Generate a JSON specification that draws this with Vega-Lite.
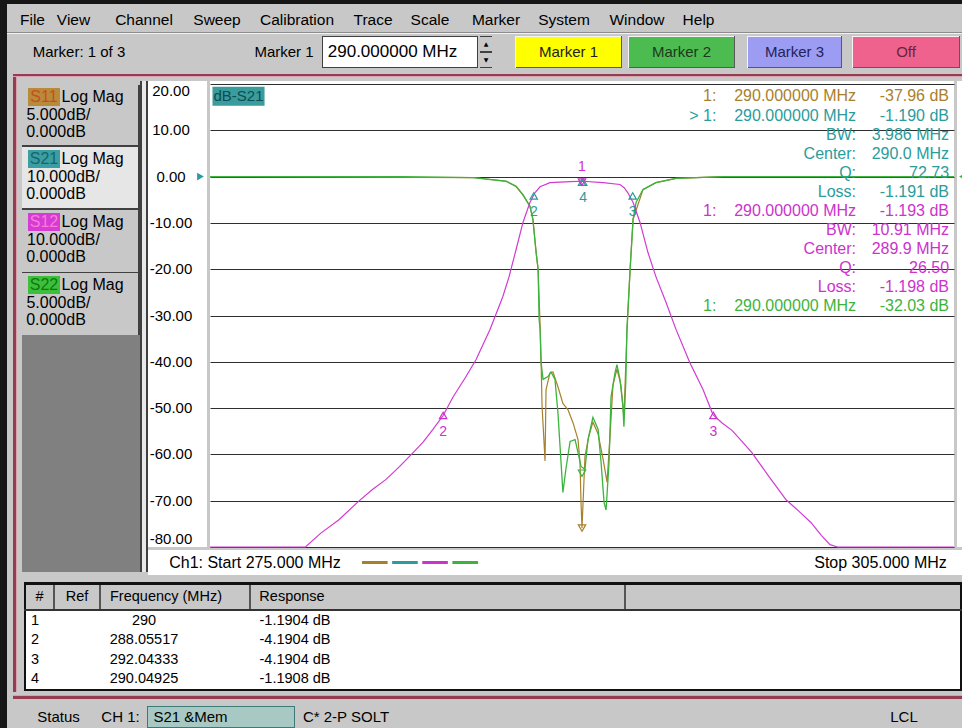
{
"$schema":"https://vega.github.io/schema/vega-lite/v6.json",
"background":"#c8c8c8",
"padding":0,
"config":{"view":{"stroke":null},"concat":{"spacing":0},"text":{"font":"Liberation Sans","fontSize":15}},
"datasets":{
"s12":[{"f":275,"db":-80},{"f":278.85,"db":-80},{"f":279.47,"db":-77},{"f":280.2,"db":-74.1},{"f":281,"db":-70.1},{"f":281.55,"db":-67.6},{"f":282.1,"db":-65.4},{"f":282.65,"db":-62.6},{"f":283.19,"db":-59.6},{"f":283.6,"db":-57.3},{"f":283.99,"db":-54.6},{"f":284.4,"db":-51.6},{"f":284.8,"db":-47.6},{"f":285.3,"db":-43.4},{"f":285.73,"db":-39.5},{"f":286.29,"db":-33},{"f":286.81,"db":-25.9},{"f":287.06,"db":-21.6},{"f":287.34,"db":-15.8},{"f":287.62,"db":-9.9},{"f":287.9,"db":-5.6},{"f":288.1,"db":-3.5},{"f":288.31,"db":-2.2},{"f":288.71,"db":-1.3},{"f":289.52,"db":-1.1},{"f":290.04,"db":-1},{"f":290.85,"db":-1.3},{"f":291.53,"db":-1.7},{"f":291.7,"db":-2.4},{"f":291.85,"db":-3.5},{"f":292.06,"db":-5.6},{"f":292.34,"db":-9.9},{"f":292.66,"db":-16.4},{"f":292.98,"db":-21.6},{"f":293.39,"db":-27.2},{"f":293.79,"db":-33},{"f":294.35,"db":-40.2},{"f":294.88,"db":-46},{"f":295.28,"db":-51.4},{"f":295.65,"db":-53.2},{"f":296.05,"db":-54.8},{"f":296.45,"db":-57.2},{"f":296.85,"db":-59.6},{"f":297.54,"db":-64.8},{"f":298.23,"db":-69.8},{"f":298.75,"db":-72.3},{"f":299.23,"db":-74.7},{"f":299.65,"db":-77.5},{"f":300,"db":-79.5},{"f":300.3,"db":-80},{"f":305,"db":-80}],
"s11":[{"f":275,"db":0},{"f":285.6,"db":-0.1},{"f":286.94,"db":-0.5},{"f":287.34,"db":-1.05},{"f":287.62,"db":-2},{"f":287.9,"db":-3.2},{"f":288.02,"db":-4.6},{"f":288.15,"db":-8.2},{"f":288.23,"db":-10},{"f":288.31,"db":-16},{"f":288.35,"db":-20},{"f":288.39,"db":-24.8},{"f":288.51,"db":-30.7},{"f":288.55,"db":-23},{"f":288.71,"db":-21.2},{"f":288.83,"db":-21.1},{"f":289.03,"db":-22.7},{"f":289.23,"db":-24.5},{"f":289.44,"db":-25.2},{"f":289.64,"db":-26.6},{"f":289.84,"db":-28.4},{"f":289.92,"db":-30.9},{"f":289.96,"db":-35.2},{"f":290,"db":-37.96},{"f":290.08,"db":-32.8},{"f":290.12,"db":-30.2},{"f":290.28,"db":-28},{"f":290.44,"db":-26.5},{"f":290.65,"db":-27.8},{"f":290.85,"db":-30.5},{"f":291.01,"db":-33},{"f":291.13,"db":-28},{"f":291.25,"db":-22.5},{"f":291.41,"db":-20.8},{"f":291.57,"db":-22.5},{"f":291.69,"db":-26},{"f":291.81,"db":-17},{"f":291.94,"db":-10},{"f":292.06,"db":-4.6},{"f":292.46,"db":-1.4},{"f":292.98,"db":-0.65},{"f":293.79,"db":-0.2},{"f":295.69,"db":0},{"f":305,"db":0}],
"s22":[{"f":275,"db":0},{"f":282.78,"db":0},{"f":285.6,"db":-0.1},{"f":286.94,"db":-0.5},{"f":287.34,"db":-1.05},{"f":287.62,"db":-1.94},{"f":287.9,"db":-3.2},{"f":288.02,"db":-4.6},{"f":288.15,"db":-8.2},{"f":288.23,"db":-10},{"f":288.27,"db":-15.4},{"f":288.31,"db":-16.5},{"f":288.35,"db":-20.1},{"f":288.43,"db":-21.9},{"f":288.63,"db":-21.6},{"f":288.75,"db":-21.1},{"f":288.91,"db":-21.9},{"f":289.03,"db":-25.5},{"f":289.23,"db":-34.1},{"f":289.35,"db":-31.6},{"f":289.52,"db":-28.6},{"f":289.72,"db":-28.4},{"f":289.84,"db":-29.8},{"f":289.96,"db":-31.3},{"f":290.12,"db":-31.6},{"f":290.24,"db":-28.4},{"f":290.44,"db":-26},{"f":290.65,"db":-27.3},{"f":290.77,"db":-30.9},{"f":290.89,"db":-35.2},{"f":290.97,"db":-36},{"f":291.09,"db":-30.9},{"f":291.17,"db":-23.8},{"f":291.33,"db":-21.2},{"f":291.41,"db":-20.3},{"f":291.53,"db":-21.9},{"f":291.65,"db":-24.8},{"f":291.69,"db":-27},{"f":291.77,"db":-21.9},{"f":291.81,"db":-16.5},{"f":291.94,"db":-10},{"f":292.06,"db":-4.6},{"f":292.18,"db":-2.8},{"f":292.46,"db":-1.4},{"f":292.98,"db":-0.65},{"f":293.79,"db":-0.2},{"f":295.69,"db":0},{"f":305,"db":0}],
"yticks":[{"v":20,"lbl":"20.00"},{"v":10,"lbl":"10.00"},{"v":0,"lbl":"0.00"},{"v":-10,"lbl":"-10.00"},{"v":-20,"lbl":"-20.00"},{"v":-30,"lbl":"-30.00"},{"v":-40,"lbl":"-40.00"},{"v":-50,"lbl":"-50.00"},{"v":-60,"lbl":"-60.00"},{"v":-70,"lbl":"-70.00"},{"v":-80,"lbl":"-80.00"}],
"mkUp":[{"trace":"S21","lbl":"2","f":288.05517,"db":-4.1904},{"trace":"S21","lbl":"3","f":292.04333,"db":-4.1904},{"trace":"S21","lbl":"4","f":290.04925,"db":-1.1908},{"trace":"S21","lbl":"","f":290,"db":-1.1904},{"trace":"S12","lbl":"2","f":284.4,"db":-51.6},{"trace":"S12","lbl":"3","f":295.3,"db":-51.6}],
"mkDown":[{"trace":"S12","lbl":"1","f":290,"db":-1.193}],
"mk5":[{"trace":"S11","f":290,"db":-37.96},{"trace":"S22","f":290,"db":-32.03}],
"read":[{"row":1,"trace":"S11","mid":"1:\u00a0\u00a0\u00a0\u00a0290.000000 MHz","val":"-37.96 dB"},{"row":2,"trace":"S21","mid":"> 1:\u00a0\u00a0\u00a0\u00a0290.000000 MHz","val":"-1.190 dB"},{"row":3,"trace":"S21","mid":"BW:","val":"3.986 MHz"},{"row":4,"trace":"S21","mid":"Center:","val":"290.0 MHz"},{"row":5,"trace":"S21","mid":"Q:","val":"72.73"},{"row":6,"trace":"S21","mid":"Loss:","val":"-1.191 dB"},{"row":7,"trace":"S12","mid":"1:\u00a0\u00a0\u00a0\u00a0290.000000 MHz","val":"-1.193 dB"},{"row":8,"trace":"S12","mid":"BW:","val":"10.91 MHz"},{"row":9,"trace":"S12","mid":"Center:","val":"289.9 MHz"},{"row":10,"trace":"S12","mid":"Q:","val":"26.50"},{"row":11,"trace":"S12","mid":"Loss:","val":"-1.198 dB"},{"row":12,"trace":"S22","mid":"1:\u00a0\u00a0\u00a0\u00a0290.000000 MHz","val":"-32.03 dB"}],
"legendTraces":[{"trace":"S11"},{"trace":"S21"},{"trace":"S12"},{"trace":"S22"}],
"table":[{"n":1,"freq":"290","resp":"-1.1904 dB"},{"n":2,"freq":"288.05517","resp":"-4.1904 dB"},{"n":3,"freq":"292.04333","resp":"-4.1904 dB"},{"n":4,"freq":"290.04925","resp":"-1.1908 dB"}]
},
"spacing":0,
"hconcat":[
{"width":7,"height":728,"data":{"values":[]},"mark":"text","view":{"fill":"#161616"}},
{"spacing":0,"vconcat":[
{"width":955,"height":4,"data":{"values":[]},"mark":"text","view":{"fill":"#161616"}},
{"spacing":0,"vconcat":[
 {"width":955,"height":3,"data":{"values":[]},"mark":"text"},
 {"spacing":0,"hconcat":[
  {"width":6,"height":25,"data":{"values":[]},"mark":"text"},
  {"width":39,"height":25,"data":{"values":[{"t":"File"}]},"mark":{"type":"text","fontSize":15.5,"color":"#000000"},"encoding":{"text":{"field":"t"}}},
  {"width":43,"height":25,"data":{"values":[{"t":"View"}]},"mark":{"type":"text","fontSize":15.5,"color":"#000000"},"encoding":{"text":{"field":"t"}}},
  {"width":98,"height":25,"data":{"values":[{"t":"Channel"}]},"mark":{"type":"text","fontSize":15.5,"color":"#000000"},"encoding":{"text":{"field":"t"}}},
  {"width":46,"height":25,"data":{"values":[{"t":"Sweep"}]},"mark":{"type":"text","fontSize":15.5,"color":"#000000"},"encoding":{"text":{"field":"t"}}},
  {"width":112,"height":25,"data":{"values":[{"t":"Calibration"}]},"mark":{"type":"text","fontSize":15.5,"color":"#000000"},"encoding":{"text":{"field":"t"}}},
  {"width":40,"height":25,"data":{"values":[{"t":"Trace"}]},"mark":{"type":"text","fontSize":15.5,"color":"#000000"},"encoding":{"text":{"field":"t"}}},
  {"width":74,"height":25,"data":{"values":[{"t":"Scale"}]},"mark":{"type":"text","fontSize":15.5,"color":"#000000"},"encoding":{"text":{"field":"t"}}},
  {"width":58,"height":25,"data":{"values":[{"t":"Marker"}]},"mark":{"type":"text","fontSize":15.5,"color":"#000000"},"encoding":{"text":{"field":"t"}}},
  {"width":78,"height":25,"data":{"values":[{"t":"System"}]},"mark":{"type":"text","fontSize":15.5,"color":"#000000"},"encoding":{"text":{"field":"t"}}},
  {"width":68,"height":25,"data":{"values":[{"t":"Window"}]},"mark":{"type":"text","fontSize":15.5,"color":"#000000"},"encoding":{"text":{"field":"t"}}},
  {"width":55,"height":25,"data":{"values":[{"t":"Help"}]},"mark":{"type":"text","fontSize":15.5,"color":"#000000"},"encoding":{"text":{"field":"t"}}},
  {"width":238,"height":25,"data":{"values":[]},"mark":"text"}
 ]}
]},
{"spacing":0,"vconcat":[
 {"width":955,"height":1,"data":{"values":[]},"mark":"text","view":{"fill":"#8c8c8c"}},
 {"width":955,"height":1,"data":{"values":[]},"mark":"text","view":{"fill":"#f2f2f2"}}
]},
{"spacing":0,"vconcat":[
 {"width":955,"height":2,"data":{"values":[]},"mark":"text"},
 {"spacing":0,"hconcat":[
  {"width":144,"height":32,"data":{"values":[{"t":"Marker: 1 of 3"}]},"mark":{"type":"text","fontSize":15,"color":"#000000"},"encoding":{"text":{"field":"t"}}},
  {"width":95,"height":32,"data":{"values":[]},"mark":"text"},
  {"width":76,"height":32,"data":{"values":[{"t":"Marker 1"}]},"mark":{"type":"text","fontSize":15,"color":"#000000"},"encoding":{"text":{"field":"t"}}},
  {"spacing":0,"hconcat":[
   {"width":1,"height":32,"data":{"values":[]},"mark":"text","view":{"fill":"#404040"}},
   {"spacing":0,"vconcat":[
    {"width":154,"height":1,"data":{"values":[]},"mark":"text","view":{"fill":"#404040"}},
    {"spacing":0,"hconcat":[
     {"width":139,"height":30,"view":{"fill":"#ffffff"},"data":{"values":[{"t":"290.000000 MHz"}]},"mark":{"type":"text","fontSize":17,"color":"#000000"},"encoding":{"text":{"field":"t"}}},
     {"width":15,"height":30,"data":{"values":[]},"mark":"text","view":{"fill":"#ffffff"}}
    ]},
    {"width":154,"height":1,"data":{"values":[]},"mark":"text","view":{"fill":"#404040"}}
   ]},
   {"width":1,"height":32,"data":{"values":[]},"mark":"text","view":{"fill":"#404040"}}
  ]},
  {"width":2,"height":32,"data":{"values":[]},"mark":"text"},
  {"spacing":0,"vconcat":[
   {"width":12,"height":1,"data":{"values":[]},"mark":"text","view":{"fill":"#404040"}},
   {"width":12,"height":14,"data":{"values":[{"t":"\u25b2"}]},"mark":{"type":"text","font":"DejaVu Sans","fontSize":6,"color":"#000000"},"encoding":{"text":{"field":"t"}}},
   {"width":12,"height":2,"data":{"values":[]},"mark":"text","view":{"fill":"#404040"}},
   {"width":12,"height":14,"data":{"values":[{"t":"\u25bc"}]},"mark":{"type":"text","font":"DejaVu Sans","fontSize":6,"color":"#000000"},"encoding":{"text":{"field":"t"}}},
   {"width":12,"height":1,"data":{"values":[]},"mark":"text","view":{"fill":"#404040"}}
  ]},
  {"width":23,"height":32,"data":{"values":[]},"mark":"text"},
  {"spacing":0,"hconcat":[
   {"width":1,"height":32,"data":{"values":[]},"mark":"text","view":{"fill":"#f4f4f4"}},
   {"spacing":0,"vconcat":[
    {"width":105,"height":1,"data":{"values":[]},"mark":"text","view":{"fill":"#f4f4f4"}},
    {"width":105,"height":30,"view":{"fill":"#ffff00"},"data":{"values":[{"t":"Marker 1"}]},"mark":{"type":"text","fontSize":15,"color":"#222222"},"encoding":{"text":{"field":"t"}}},
    {"width":105,"height":1,"data":{"values":[]},"mark":"text","view":{"fill":"#5a5a5a"}}
   ]},
   {"width":1,"height":32,"data":{"values":[]},"mark":"text","view":{"fill":"#5a5a5a"}}
  ]},
  {"width":6,"height":32,"data":{"values":[]},"mark":"text"},
  {"spacing":0,"hconcat":[
   {"width":1,"height":32,"data":{"values":[]},"mark":"text","view":{"fill":"#f4f4f4"}},
   {"spacing":0,"vconcat":[
    {"width":105,"height":1,"data":{"values":[]},"mark":"text","view":{"fill":"#f4f4f4"}},
    {"width":105,"height":30,"view":{"fill":"#4cbc50"},"data":{"values":[{"t":"Marker 2"}]},"mark":{"type":"text","fontSize":15,"color":"#1c3a1c"},"encoding":{"text":{"field":"t"}}},
    {"width":105,"height":1,"data":{"values":[]},"mark":"text","view":{"fill":"#5a5a5a"}}
   ]},
   {"width":1,"height":32,"data":{"values":[]},"mark":"text","view":{"fill":"#5a5a5a"}}
  ]},
  {"width":12,"height":32,"data":{"values":[]},"mark":"text"},
  {"spacing":0,"hconcat":[
   {"width":1,"height":32,"data":{"values":[]},"mark":"text","view":{"fill":"#f4f4f4"}},
   {"spacing":0,"vconcat":[
    {"width":93,"height":1,"data":{"values":[]},"mark":"text","view":{"fill":"#f4f4f4"}},
    {"width":93,"height":30,"view":{"fill":"#9c9cf2"},"data":{"values":[{"t":"Marker 3"}]},"mark":{"type":"text","fontSize":15,"color":"#23235a"},"encoding":{"text":{"field":"t"}}},
    {"width":93,"height":1,"data":{"values":[]},"mark":"text","view":{"fill":"#5a5a5a"}}
   ]},
   {"width":1,"height":32,"data":{"values":[]},"mark":"text","view":{"fill":"#5a5a5a"}}
  ]},
  {"width":10,"height":32,"data":{"values":[]},"mark":"text"},
  {"spacing":0,"hconcat":[
   {"width":1,"height":32,"data":{"values":[]},"mark":"text","view":{"fill":"#f4f4f4"}},
   {"spacing":0,"vconcat":[
    {"width":106,"height":1,"data":{"values":[]},"mark":"text","view":{"fill":"#f4f4f4"}},
    {"width":106,"height":30,"view":{"fill":"#f0628e"},"data":{"values":[{"t":"Off"}]},"mark":{"type":"text","fontSize":15,"color":"#6a2438"},"encoding":{"text":{"field":"t"}}},
    {"width":106,"height":1,"data":{"values":[]},"mark":"text","view":{"fill":"#5a5a5a"}}
   ]},
   {"width":1,"height":32,"data":{"values":[]},"mark":"text","view":{"fill":"#5a5a5a"}}
  ]},
  {"width":2,"height":32,"data":{"values":[]},"mark":"text"}
 ]},
 {"width":955,"height":4,"data":{"values":[]},"mark":"text"}
]},
{"width":955,"height":2,"data":{"values":[]},"mark":"text"},
{"spacing":0,"hconcat":[
 {"width":6,"height":622,"data":{"values":[]},"mark":"text"},
 {"spacing":0,"vconcat":[
  {"width":949,"height":2,"data":{"values":[]},"mark":"text","view":{"fill":"#963c52"}},
  {"width":949,"height":1,"data":{"values":[]},"mark":"text","view":{"fill":"#d7a2ae"}},
  {"spacing":0,"hconcat":[
   {"width":3,"height":615,"data":{"values":[]},"mark":"text","view":{"fill":"#963c52"}},
   {"width":1,"height":615,"data":{"values":[]},"mark":"text","view":{"fill":"#d7a2ae"}},
   {"spacing":0,"vconcat":[
    {"width":945,"height":4,"data":{"values":[]},"mark":"text"},
    {"spacing":0,"hconcat":[
     {"width":5,"height":491,"data":{"values":[]},"mark":"text"},
     {"spacing":0,"vconcat":[
      {"width":118,"height":4,"data":{"values":[]},"mark":"text"},
      {"spacing":0,"hconcat":[
       {"spacing":0,"vconcat":[
        {"width":116,"height":3,"data":{"values":[]},"mark":"text"},
        {"spacing":0,"hconcat":[
         {"width":6,"height":18,"data":{"values":[]},"mark":"text"},
         {"width":32,"height":18,"view":{"fill":"#b88a3a"},"data":{"values":[{"t":"S11"}]},"mark":{"type":"text","fontSize":16,"color":"#c4501e"},"encoding":{"text":{"field":"t"}}},
         {"width":65,"height":18,"data":{"values":[{"t":"Log Mag"}]},"mark":{"type":"text","fontSize":16,"color":"#000000"},"encoding":{"text":{"field":"t"}}},
         {"width":13,"height":18,"data":{"values":[]},"mark":"text"}
        ]},
        {"spacing":0,"hconcat":[
         {"width":73,"height":17,"data":{"values":[{"t":"5.000dB/"}]},"mark":{"type":"text","fontSize":16,"color":"#000000"},"encoding":{"text":{"field":"t"}}},
         {"width":43,"height":17,"data":{"values":[]},"mark":"text"}
        ]},
        {"spacing":0,"hconcat":[
         {"width":68,"height":17,"data":{"values":[{"t":"0.000dB"}]},"mark":{"type":"text","fontSize":16,"color":"#000000"},"encoding":{"text":{"field":"t"}}},
         {"width":48,"height":17,"data":{"values":[]},"mark":"text"}
        ]},
        {"width":116,"height":5,"data":{"values":[]},"mark":"text"}
       ]},
       {"width":2,"height":60,"data":{"values":[]},"mark":"text","view":{"fill":"#404040"}}
      ]},
      {"width":118,"height":2,"data":{"values":[]},"mark":"text","view":{"fill":"#404040"}},
      {"spacing":0,"hconcat":[
       {"spacing":0,"vconcat":[
        {"width":116,"height":3,"data":{"values":[]},"mark":"text","view":{"fill":"#e6e6e6"}},
        {"spacing":0,"hconcat":[
         {"width":6,"height":18,"data":{"values":[]},"mark":"text","view":{"fill":"#e6e6e6"}},
         {"width":32,"height":18,"view":{"fill":"#3a9ea2"},"data":{"values":[{"t":"S21"}]},"mark":{"type":"text","fontSize":16,"color":"#17656b"},"encoding":{"text":{"field":"t"}}},
         {"width":65,"height":18,"view":{"fill":"#e6e6e6"},"data":{"values":[{"t":"Log Mag"}]},"mark":{"type":"text","fontSize":16,"color":"#000000"},"encoding":{"text":{"field":"t"}}},
         {"width":13,"height":18,"data":{"values":[]},"mark":"text","view":{"fill":"#e6e6e6"}}
        ]},
        {"spacing":0,"hconcat":[
         {"width":83,"height":17,"view":{"fill":"#e6e6e6"},"data":{"values":[{"t":"10.000dB/"}]},"mark":{"type":"text","fontSize":16,"color":"#000000"},"encoding":{"text":{"field":"t"}}},
         {"width":33,"height":17,"data":{"values":[]},"mark":"text","view":{"fill":"#e6e6e6"}}
        ]},
        {"spacing":0,"hconcat":[
         {"width":68,"height":17,"view":{"fill":"#e6e6e6"},"data":{"values":[{"t":"0.000dB"}]},"mark":{"type":"text","fontSize":16,"color":"#000000"},"encoding":{"text":{"field":"t"}}},
         {"width":48,"height":17,"data":{"values":[]},"mark":"text","view":{"fill":"#e6e6e6"}}
        ]},
        {"width":116,"height":6,"data":{"values":[]},"mark":"text","view":{"fill":"#e6e6e6"}}
       ]},
       {"width":2,"height":61,"data":{"values":[]},"mark":"text","view":{"fill":"#404040"}}
      ]},
      {"width":118,"height":2,"data":{"values":[]},"mark":"text","view":{"fill":"#404040"}},
      {"spacing":0,"hconcat":[
       {"spacing":0,"vconcat":[
        {"width":116,"height":3,"data":{"values":[]},"mark":"text"},
        {"spacing":0,"hconcat":[
         {"width":6,"height":18,"data":{"values":[]},"mark":"text"},
         {"width":32,"height":18,"view":{"fill":"#d43cd4"},"data":{"values":[{"t":"S12"}]},"mark":{"type":"text","fontSize":16,"color":"#ff7ad8"},"encoding":{"text":{"field":"t"}}},
         {"width":65,"height":18,"data":{"values":[{"t":"Log Mag"}]},"mark":{"type":"text","fontSize":16,"color":"#000000"},"encoding":{"text":{"field":"t"}}},
         {"width":13,"height":18,"data":{"values":[]},"mark":"text"}
        ]},
        {"spacing":0,"hconcat":[
         {"width":83,"height":17,"data":{"values":[{"t":"10.000dB/"}]},"mark":{"type":"text","fontSize":16,"color":"#000000"},"encoding":{"text":{"field":"t"}}},
         {"width":33,"height":17,"data":{"values":[]},"mark":"text"}
        ]},
        {"spacing":0,"hconcat":[
         {"width":68,"height":17,"data":{"values":[{"t":"0.000dB"}]},"mark":{"type":"text","fontSize":16,"color":"#000000"},"encoding":{"text":{"field":"t"}}},
         {"width":48,"height":17,"data":{"values":[]},"mark":"text"}
        ]},
        {"width":116,"height":7,"data":{"values":[]},"mark":"text"}
       ]},
       {"width":2,"height":62,"data":{"values":[]},"mark":"text","view":{"fill":"#404040"}}
      ]},
      {"width":118,"height":1,"data":{"values":[]},"mark":"text","view":{"fill":"#404040"}},
      {"spacing":0,"hconcat":[
       {"spacing":0,"vconcat":[
        {"width":116,"height":3,"data":{"values":[]},"mark":"text"},
        {"spacing":0,"hconcat":[
         {"width":6,"height":18,"data":{"values":[]},"mark":"text"},
         {"width":32,"height":18,"view":{"fill":"#3cc03c"},"data":{"values":[{"t":"S22"}]},"mark":{"type":"text","fontSize":16,"color":"#0e7a0e"},"encoding":{"text":{"field":"t"}}},
         {"width":65,"height":18,"data":{"values":[{"t":"Log Mag"}]},"mark":{"type":"text","fontSize":16,"color":"#000000"},"encoding":{"text":{"field":"t"}}},
         {"width":13,"height":18,"data":{"values":[]},"mark":"text"}
        ]},
        {"spacing":0,"hconcat":[
         {"width":73,"height":17,"data":{"values":[{"t":"5.000dB/"}]},"mark":{"type":"text","fontSize":16,"color":"#000000"},"encoding":{"text":{"field":"t"}}},
         {"width":43,"height":17,"data":{"values":[]},"mark":"text"}
        ]},
        {"spacing":0,"hconcat":[
         {"width":68,"height":17,"data":{"values":[{"t":"0.000dB"}]},"mark":{"type":"text","fontSize":16,"color":"#000000"},"encoding":{"text":{"field":"t"}}},
         {"width":48,"height":17,"data":{"values":[]},"mark":"text"}
        ]},
        {"width":116,"height":7,"data":{"values":[]},"mark":"text"}
       ]},
       {"width":2,"height":62,"data":{"values":[]},"mark":"text","view":{"fill":"#404040"}}
      ]},
      {"width":118,"height":237,"data":{"values":[]},"mark":"text","view":{"fill":"#808080"}}
     ]},
     {"width":2,"height":491,"data":{"values":[]},"mark":"text","view":{"fill":"#404040"}},
     {"width":4,"height":491,"data":{"values":[]},"mark":"text","view":{"fill":"#e8e8e8"}},
     {"width":2,"height":491,"data":{"values":[]},"mark":"text","view":{"fill":"#404040"}},
     {"spacing":0,"vconcat":[
      {"spacing":0,"hconcat":[
       {"spacing":0,"vconcat":[
        {"width":59,"height":3,"data":{"values":[]},"mark":"text","view":{"fill":"#ffffff"}},
        {"spacing":0,"hconcat":[
         {"width":46,"height":463,"view":{"fill":"#ffffff"},"data":{"name":"yticks"},"mark":{"type":"text","fontSize":15,"color":"#000000","baseline":{"expr":"datum.v == 20 ? 'top' : (datum.v == -80 ? 'bottom' : 'middle')"}},"encoding":{"y":{"field":"v","type":"quantitative","scale":{"domain":[-80,20],"nice":false,"zero":false},"axis":null},"text":{"field":"lbl"}}},
         {"width":13,"height":463,"view":{"fill":"#ffffff"},"data":{"values":[{"db":0}]},"mark":{"type":"point","shape":"triangle-right","filled":true,"size":60,"opacity":1,"color":"#2a9c9c"},"encoding":{"y":{"field":"db","type":"quantitative","scale":{"domain":[-80,20],"nice":false,"zero":false},"axis":null}}}
        ]}
       ]},
       {"spacing":0,"vconcat":[
        {"width":744,"height":3,"data":{"values":[]},"mark":"text","view":{"fill":"#ffffff"}},
        {"width":744,"height":463,"view":{"fill":"#ffffff"},
         "resolve":{"scale":{"y":"independent"}},
         "layer":[
          {"data":{"name":"s11"},"mark":{"type":"line","color":"#a8802c","strokeWidth":1.2},"encoding":{"x":{"field":"f","type":"quantitative","scale":{"domain":[275,305],"nice":false,"zero":false},"axis":{"values":[275,278,281,284,287,290,293,296,299,302,305],"grid":true,"gridColor":"#2e2e2e","gridOpacity":1,"gridWidth":1,"labels":false,"ticks":false,"domain":false,"title":null}},"y":{"field":"db","type":"quantitative","scale":{"domain":[-40,10],"nice":false,"zero":false},"axis":null}}},
          {"data":{"name":"s22"},"mark":{"type":"line","color":"#3cb43c","strokeWidth":1.3},"encoding":{"x":{"field":"f","type":"quantitative","scale":{"domain":[275,305],"nice":false,"zero":false},"axis":null},"y":{"field":"db","type":"quantitative","scale":{"domain":[-40,10],"nice":false,"zero":false},"axis":null}}},
          {"data":{"name":"s12"},"mark":{"type":"line","color":"#d23ad2","strokeWidth":1.2},"encoding":{"x":{"field":"f","type":"quantitative","scale":{"domain":[275,305],"nice":false,"zero":false},"axis":null},"y":{"field":"db","type":"quantitative","scale":{"domain":[-80,20],"nice":false,"zero":false},"axis":{"values":[-80,-70,-60,-50,-40,-30,-20,-10,0,10,20],"grid":true,"gridColor":"#2e2e2e","gridOpacity":1,"gridWidth":1,"labels":false,"ticks":false,"domain":false,"title":null}}}},
          {"data":{"name":"mkUp"},"mark":{"type":"point","shape":"triangle-up","filled":false,"size":55,"strokeWidth":1.2,"opacity":1},"encoding":{"x":{"field":"f","type":"quantitative","scale":{"domain":[275,305],"nice":false,"zero":false},"axis":null},"y":{"field":"db","type":"quantitative","scale":{"domain":[-80,20],"nice":false,"zero":false},"axis":null},"color":{"field":"trace","type":"nominal","scale":{"domain":["S11","S21","S12","S22"],"range":["#a8802c","#2a9c9c","#cc33cc","#3cb43c"]},"legend":null}}},
          {"data":{"name":"mkUp"},"mark":{"type":"text","dy":16,"fontSize":14},"encoding":{"x":{"field":"f","type":"quantitative","scale":{"domain":[275,305],"nice":false,"zero":false},"axis":null},"y":{"field":"db","type":"quantitative","scale":{"domain":[-80,20],"nice":false,"zero":false},"axis":null},"text":{"field":"lbl"},"color":{"field":"trace","type":"nominal","scale":{"domain":["S11","S21","S12","S22"],"range":["#a8802c","#2a9c9c","#cc33cc","#3cb43c"]},"legend":null}}},
          {"data":{"name":"mkDown"},"mark":{"type":"point","shape":"triangle-down","filled":false,"size":55,"strokeWidth":1.2,"opacity":1},"encoding":{"x":{"field":"f","type":"quantitative","scale":{"domain":[275,305],"nice":false,"zero":false},"axis":null},"y":{"field":"db","type":"quantitative","scale":{"domain":[-80,20],"nice":false,"zero":false},"axis":null},"color":{"field":"trace","type":"nominal","scale":{"domain":["S11","S21","S12","S22"],"range":["#a8802c","#2a9c9c","#cc33cc","#3cb43c"]},"legend":null}}},
          {"data":{"name":"mkDown"},"mark":{"type":"text","dy":-15,"fontSize":14},"encoding":{"x":{"field":"f","type":"quantitative","scale":{"domain":[275,305],"nice":false,"zero":false},"axis":null},"y":{"field":"db","type":"quantitative","scale":{"domain":[-80,20],"nice":false,"zero":false},"axis":null},"text":{"field":"lbl"},"color":{"field":"trace","type":"nominal","scale":{"domain":["S11","S21","S12","S22"],"range":["#a8802c","#2a9c9c","#cc33cc","#3cb43c"]},"legend":null}}},
          {"data":{"name":"mk5"},"mark":{"type":"point","shape":"triangle-down","filled":false,"size":55,"strokeWidth":1.2,"opacity":1},"encoding":{"x":{"field":"f","type":"quantitative","scale":{"domain":[275,305],"nice":false,"zero":false},"axis":null},"y":{"field":"db","type":"quantitative","scale":{"domain":[-40,10],"nice":false,"zero":false},"axis":null},"color":{"field":"trace","type":"nominal","scale":{"domain":["S11","S21","S12","S22"],"range":["#a8802c","#2a9c9c","#cc33cc","#3cb43c"]},"legend":null}}},
          {"data":{"values":[{}]},"mark":{"type":"rect","color":"#3a9c9c"},"encoding":{"x":{"datum":275.1,"type":"quantitative","scale":{"domain":[275,305],"nice":false,"zero":false},"axis":null},"x2":{"datum":277.2},"y":{"datum":19.4,"type":"quantitative","scale":{"domain":[-80,20],"nice":false,"zero":false},"axis":null},"y2":{"datum":15.3}}},
          {"data":{"values":[{"t":"dB-S21"}]},"mark":{"type":"text","fontSize":15,"color":"#0c4c52"},"encoding":{"x":{"datum":276.15,"type":"quantitative","scale":{"domain":[275,305],"nice":false,"zero":false},"axis":null},"y":{"datum":17.35,"type":"quantitative","scale":{"domain":[-80,20],"nice":false,"zero":false},"axis":null},"text":{"field":"t"}}},
          {"data":{"name":"read"},"mark":{"type":"text","align":"right","fontSize":16},"encoding":{"x":{"datum":301.05,"type":"quantitative","scale":{"domain":[275,305],"nice":false,"zero":false},"axis":null},"y":{"field":"row","type":"quantitative","scale":{"domain":[0.35,24.6],"reverse":true,"nice":false,"zero":false},"axis":null},"text":{"field":"mid"},"color":{"field":"trace","type":"nominal","scale":{"domain":["S11","S21","S12","S22"],"range":["#a8802c","#2a9c9c","#cc33cc","#3cb43c"]},"legend":null}}},
          {"data":{"name":"read"},"mark":{"type":"text","align":"right","fontSize":16},"encoding":{"x":{"datum":304.8,"type":"quantitative","scale":{"domain":[275,305],"nice":false,"zero":false},"axis":null},"y":{"field":"row","type":"quantitative","scale":{"domain":[0.35,24.6],"reverse":true,"nice":false,"zero":false},"axis":null},"text":{"field":"val"},"color":{"field":"trace","type":"nominal","scale":{"domain":["S11","S21","S12","S22"],"range":["#a8802c","#2a9c9c","#cc33cc","#3cb43c"]},"legend":null}}}
         ]}
       ]},
       {"spacing":0,"vconcat":[
        {"width":11,"height":3,"data":{"values":[]},"mark":"text","view":{"fill":"#ffffff"}},
        {"width":11,"height":463,"view":{"fill":"#ffffff"},"data":{"values":[{"db":0}]},"mark":{"type":"point","shape":"triangle-left","filled":true,"size":60,"opacity":1,"color":"#3cb43c"},"encoding":{"y":{"field":"db","type":"quantitative","scale":{"domain":[-80,20],"nice":false,"zero":false},"axis":null}}}
       ]}
      ]},
      {"spacing":0,"hconcat":[
       {"width":214,"height":25,"view":{"fill":"#ffffff"},"data":{"values":[{"t":"Ch1: Start 275.000 MHz"}]},"mark":{"type":"text","fontSize":16,"color":"#000000"},"encoding":{"text":{"field":"t"}}},
       {"spacing":0,"vconcat":[
        {"width":116,"height":11,"data":{"values":[]},"mark":"text","view":{"fill":"#ffffff"}},
        {"width":116,"height":3,"view":{"fill":"#ffffff"},"data":{"name":"legendTraces"},"mark":"rect","encoding":{"x":{"field":"trace","type":"nominal","sort":null,"scale":{"type":"band","paddingInner":0.15,"paddingOuter":0},"axis":null},"color":{"field":"trace","type":"nominal","scale":{"domain":["S11","S21","S12","S22"],"range":["#a8802c","#2a9c9c","#cc33cc","#3cb43c"]},"legend":null}}},
        {"width":116,"height":11,"data":{"values":[]},"mark":"text","view":{"fill":"#ffffff"}}
       ]},
       {"width":333,"height":25,"data":{"values":[]},"mark":"text","view":{"fill":"#ffffff"}},
       {"width":139,"height":25,"view":{"fill":"#ffffff"},"data":{"values":[{"t":"Stop 305.000 MHz"}]},"mark":{"type":"text","fontSize":16,"color":"#000000"},"encoding":{"text":{"field":"t"}}},
       {"width":12,"height":25,"data":{"values":[]},"mark":"text","view":{"fill":"#ffffff"}}
      ]}
     ]}
    ]},
    {"width":945,"height":7,"data":{"values":[]},"mark":"text"},
    {"spacing":0,"hconcat":[
     {"width":7,"height":109,"data":{"values":[]},"mark":"text"},
     {"spacing":0,"vconcat":[
      {"width":938,"height":3,"data":{"values":[]},"mark":"text","view":{"fill":"#111111"}},
      {"spacing":0,"hconcat":[
       {"width":2,"height":24,"data":{"values":[]},"mark":"text","view":{"fill":"#111111"}},
       {"width":27,"height":24,"data":{"values":[{"t":"#"}]},"mark":{"type":"text","fontSize":14.5,"color":"#000000"},"encoding":{"text":{"field":"t"}}},
       {"width":2,"height":24,"data":{"values":[]},"mark":"text","view":{"fill":"#555555"}},
       {"width":44,"height":24,"data":{"values":[{"t":"Ref"}]},"mark":{"type":"text","fontSize":14.5,"color":"#000000"},"encoding":{"text":{"field":"t"}}},
       {"width":2,"height":24,"data":{"values":[]},"mark":"text","view":{"fill":"#555555"}},
       {"width":130,"height":24,"data":{"values":[{"t":"Frequency (MHz)"}]},"mark":{"type":"text","fontSize":14.5,"color":"#000000"},"encoding":{"text":{"field":"t"}}},
       {"width":18,"height":24,"data":{"values":[]},"mark":"text"},
       {"width":2,"height":24,"data":{"values":[]},"mark":"text","view":{"fill":"#555555"}},
       {"width":82,"height":24,"data":{"values":[{"t":"Response"}]},"mark":{"type":"text","fontSize":14.5,"color":"#000000"},"encoding":{"text":{"field":"t"}}},
       {"width":291,"height":24,"data":{"values":[]},"mark":"text"},
       {"width":2,"height":24,"data":{"values":[]},"mark":"text","view":{"fill":"#555555"}},
       {"width":334,"height":24,"data":{"values":[]},"mark":"text"},
       {"width":2,"height":24,"data":{"values":[]},"mark":"text","view":{"fill":"#111111"}}
      ]},
      {"width":938,"height":2,"data":{"values":[]},"mark":"text","view":{"fill":"#333333"}},
      {"spacing":0,"hconcat":[
       {"width":2,"height":78,"data":{"values":[]},"mark":"text","view":{"fill":"#111111"}},
       {"width":18,"height":78,"view":{"fill":"#ffffff"},"data":{"name":"table"},"mark":{"type":"text","fontSize":14.5,"color":"#000000"},"encoding":{"y":{"field":"n","type":"ordinal","axis":null},"text":{"field":"n"}}},
       {"width":57,"height":78,"data":{"values":[]},"mark":"text","view":{"fill":"#ffffff"}},
       {"width":86,"height":78,"view":{"fill":"#ffffff"},"data":{"name":"table"},"mark":{"type":"text","fontSize":14.5,"color":"#000000"},"encoding":{"y":{"field":"n","type":"ordinal","axis":null},"text":{"field":"freq"}}},
       {"width":64,"height":78,"data":{"values":[]},"mark":"text","view":{"fill":"#ffffff"}},
       {"width":88,"height":78,"view":{"fill":"#ffffff"},"data":{"name":"table"},"mark":{"type":"text","fontSize":14.5,"color":"#000000"},"encoding":{"y":{"field":"n","type":"ordinal","axis":null},"text":{"field":"resp"}}},
       {"width":621,"height":78,"data":{"values":[]},"mark":"text","view":{"fill":"#ffffff"}},
       {"width":2,"height":78,"data":{"values":[]},"mark":"text","view":{"fill":"#111111"}}
      ]},
      {"width":938,"height":2,"data":{"values":[]},"mark":"text","view":{"fill":"#111111"}}
     ]}
    ]},
    {"width":945,"height":4,"data":{"values":[]},"mark":"text"}
   ]}
  ]},
  {"width":949,"height":1,"data":{"values":[]},"mark":"text","view":{"fill":"#d7a2ae"}},
  {"width":949,"height":3,"data":{"values":[]},"mark":"text","view":{"fill":"#963c52"}}
 ]}
]},
{"spacing":0,"vconcat":[
 {"width":955,"height":7,"data":{"values":[]},"mark":"text"},
 {"spacing":0,"hconcat":[
  {"width":10,"height":22,"data":{"values":[]},"mark":"text"},
  {"width":83,"height":22,"data":{"values":[{"t":"Status"}]},"mark":{"type":"text","fontSize":15,"color":"#000000"},"encoding":{"text":{"field":"t"}}},
  {"width":41,"height":22,"data":{"values":[{"t":"CH 1:"}]},"mark":{"type":"text","fontSize":15,"color":"#000000"},"encoding":{"text":{"field":"t"}}},
  {"width":6,"height":22,"data":{"values":[]},"mark":"text"},
  {"spacing":0,"hconcat":[
   {"width":1,"height":22,"data":{"values":[]},"mark":"text","view":{"fill":"#3c7a78"}},
   {"spacing":0,"vconcat":[
    {"width":146,"height":1,"data":{"values":[]},"mark":"text","view":{"fill":"#3c7a78"}},
    {"spacing":0,"hconcat":[
     {"width":85,"height":20,"view":{"fill":"#a8c8c4"},"data":{"values":[{"t":"S21 &Mem"}]},"mark":{"type":"text","fontSize":15,"color":"#000000"},"encoding":{"text":{"field":"t"}}},
     {"width":61,"height":20,"data":{"values":[]},"mark":"text","view":{"fill":"#a8c8c4"}}
    ]},
    {"width":146,"height":1,"data":{"values":[]},"mark":"text","view":{"fill":"#3c7a78"}}
   ]},
   {"width":1,"height":22,"data":{"values":[]},"mark":"text","view":{"fill":"#3c7a78"}}
  ]},
  {"width":102,"height":22,"data":{"values":[{"t":"C* 2-P SOLT"}]},"mark":{"type":"text","fontSize":15,"color":"#000000"},"encoding":{"text":{"field":"t"}}},
  {"width":473,"height":22,"data":{"values":[]},"mark":"text"},
  {"width":68,"height":22,"data":{"values":[{"t":"LCL"}]},"mark":{"type":"text","fontSize":15,"color":"#000000"},"encoding":{"text":{"field":"t"}}},
  {"width":24,"height":22,"data":{"values":[]},"mark":"text"}
 ]}
]},
{"width":955,"height":3,"data":{"values":[]},"mark":"text","view":{"fill":"#161616"}}
]}
]
}
